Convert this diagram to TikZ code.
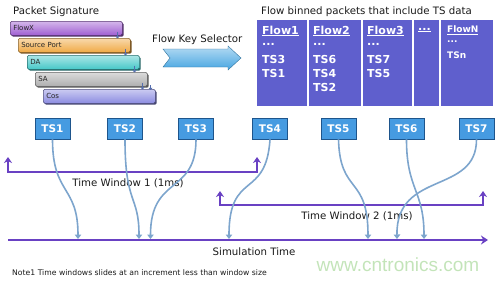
\documentclass[tikz,border=0pt]{standalone}
\usepackage{fontspec}
\setmainfont{DejaVu Sans}
\newfontfamily\wmfont{Liberation Sans}
\usetikzlibrary{arrows.meta}
\definecolor{winc}{RGB}{105,65,195}
\definecolor{curvc}{RGB}{125,165,205}
\definecolor{tsfill}{RGB}{70,155,225}
\definecolor{tsdraw}{RGB}{30,85,140}
\definecolor{tblc}{RGB}{95,95,205}
\definecolor{cflowx}{RGB}{160,95,210}
\definecolor{csport}{RGB}{240,170,70}
\definecolor{cda}{RGB}{70,200,200}
\definecolor{csa}{RGB}{175,175,175}
\definecolor{ccos}{RGB}{140,140,225}
\definecolor{iconc}{RGB}{85,110,175}
\definecolor{arrc}{RGB}{70,165,225}
\definecolor{wmc}{RGB}{195,228,185}
\begin{document}
\begin{tikzpicture}[x=1pt,y=-1pt,
  lbl/.style={inner sep=0pt, text=black!90, font=\fontsize{10.2}{12}\selectfont},
  bar/.style={rounded corners=1.5pt, draw=#1!55!black, line width=0.5pt,
    top color=#1!45!white, bottom color=#1,
    minimum width=112pt, minimum height=14pt, anchor=north west, inner sep=0pt,
    text width=106pt, align=left, font=\fontsize{7}{8}\selectfont, text=black!85,
    preaction={fill=#1!50!black, transform canvas={shift={(1.4pt,-1.4pt)}}}},
  icon/.style={draw=iconc, line width=1.6pt, -{Triangle[length=2.2pt,width=4pt]}},
  tt/.style={text=white, anchor=west, inner sep=0pt, font=\bfseries\fontsize{11}{12}\selectfont},
  ttn/.style={text=white, anchor=west, inner sep=0pt, font=\bfseries\fontsize{9}{10}\selectfont},
  tsbox/.style={fill=tsfill, draw=tsdraw, line width=0.9pt, minimum width=35pt, minimum height=21pt,
    inner sep=0pt, text=white, font=\bfseries\fontsize{10.5}{12}\selectfont},
  win/.style={draw=winc, line width=2.2pt, {Stealth[length=6pt,width=8pt]}-{Stealth[length=6pt,width=8pt]}},
  curv/.style={draw=curvc, line width=1.6pt, -{Triangle[length=4.5pt,width=6.5pt]}}
]
\useasboundingbox (0,0) rectangle (500,282);

% Packet signature
\node[lbl, anchor=west] (ps) at (13,12) {Packet Signature};
\node[bar=cflowx] (b1) at (10,21) {FlowX};
\node[bar=csport] (b2) at (18,38) {Source Port};
\node[bar=cda]    (b3) at (27,55) {DA};
\node[bar=csa]    (b4) at (35,72) {SA};
\node[bar=ccos]   (b5) at (43,89) {Cos};
\foreach \b in {b1,b2,b3,b4}{
  \draw[icon] ([xshift=-5pt,yshift=4pt]\b.south east) -- ([xshift=-5pt,yshift=-3pt]\b.south east);
}
\draw[icon] ([xshift=-5pt,yshift=4pt]b5.north east) -- ([xshift=-5pt,yshift=-1pt]b5.north east);

% Flow key selector
\node[lbl, anchor=west] (fks) at (152,40) {Flow Key Selector};
\draw[draw=arrc!70!black, line width=0.4pt, top color=arrc!40!white, bottom color=arrc]
  (163,49) -- (228,49) -- (228,46) -- (241,58) -- (228,70) -- (228,67) -- (163,67) -- (170,58) -- cycle;

% Flow table
\node[lbl, anchor=west] (fb) at (261,12) {Flow binned packets that include TS data};
\node[fill=tblc, minimum width=236pt, minimum height=86pt, anchor=north west, inner sep=0pt] (tbl) at (257,20) {};
\foreach \xx in {308,362,413,440}{
  \draw[white, line width=1.5pt] (\xx,20) -- (\xx,106);
}
\node[tt] (f1) at (262,31) {\underline{Flow1}};
\node[tt] (f1d) at (262,44) {...};
\node[tt] (f1a) at (262,59) {TS3};
\node[tt] (f1b) at (262,73) {TS1};
\node[tt] (f2) at (313,31) {\underline{Flow2}};
\node[tt] (f2d) at (313,44) {...};
\node[tt] (f2a) at (313,59) {TS6};
\node[tt] (f2b) at (313,73) {TS4};
\node[tt] (f2c) at (313,87) {TS2};
\node[tt] (f3) at (367,31) {\underline{Flow3}};
\node[tt] (f3d) at (367,44) {...};
\node[tt] (f3a) at (367,59) {TS7};
\node[tt] (f3b) at (367,73) {TS5};
\node[tt] (f4) at (418,30) {\underline{...}};
\node[ttn] (fn) at (447,30) {\underline{FlowN}};
\node[ttn] (fnd) at (447,42) {...};
\node[ttn] (fna) at (447,55) {TSn};

% TS boxes
\node[tsbox] (ts1) at (52.5,128.5) {TS1};
\node[tsbox] (ts2) at (125,128.5) {TS2};
\node[tsbox] (ts3) at (196,128.5) {TS3};
\node[tsbox] (ts4) at (270,128.5) {TS4};
\node[tsbox] (ts5) at (338.5,128.5) {TS5};
\node[tsbox] (ts6) at (406.5,128.5) {TS6};
\node[tsbox] (ts7) at (476.5,128.5) {TS7};

% time windows
\coordinate (w1a) at (8,157);
\coordinate (w1b) at (8,172);
\coordinate (w1c) at (257,172);
\coordinate (w1d) at (257,157);
\draw[win] (w1a) -- (w1b) -- (w1c) -- (w1d);
\node[lbl] (w1l) at (128,183.5) {Time Window 1 (1ms)};

\coordinate (w2a) at (220,191);
\coordinate (w2b) at (220,205);
\coordinate (w2c) at (483,205);
\coordinate (w2d) at (483,191);
\draw[win] (w2a) -- (w2b) -- (w2c) -- (w2d);
\node[lbl] (w2l) at (357,216.5) {Time Window 2 (1ms)};

% simulation time
\coordinate (s0) at (8,240);
\coordinate (s1) at (488,240);
\draw[draw=winc, line width=2.2pt, -{Stealth[length=7pt,width=9pt]}] (s0) -- (s1);
\node[lbl] (stl) at (254,252) {Simulation Time};

% curves
\coordinate (e1) at (78,239);
\coordinate (e2) at (139,239);
\coordinate (e3) at (150.5,239);
\coordinate (e4) at (229,239);
\coordinate (e5) at (368,239);
\coordinate (e6) at (424,239);
\coordinate (e7) at (397,239);
\draw[curv] (ts1.south) .. controls (52.5,195) and (78,185) .. (e1);
\draw[curv] (ts2.south) .. controls (125,205) and (139,195) .. (e2);
\draw[curv] (ts3.south) .. controls (196,195) and (150.5,175) .. (e3);
\draw[curv] (ts4.south) .. controls (266,200) and (229,170) .. (e4);
\draw[curv] (ts5.south) .. controls (340,195) and (368,175) .. (e5);
\draw[curv] (ts6.south) .. controls (406.5,190) and (424,190) .. (e6);
\draw[curv] (ts7.south) .. controls (476.5,195) and (396,170) .. (e7);

% note and watermark
\node[inner sep=0pt, anchor=west, text=black!90, font=\fontsize{7.7}{9}\selectfont] (note) at (12,273)
  {Note1 Time windows slides at an increment less than window size};
\node[inner sep=0pt, text=wmc, font=\wmfont\fontsize{19}{22}\selectfont] (wm) at (398,265) {www.cntronics.com};
\end{tikzpicture}
\end{document}
